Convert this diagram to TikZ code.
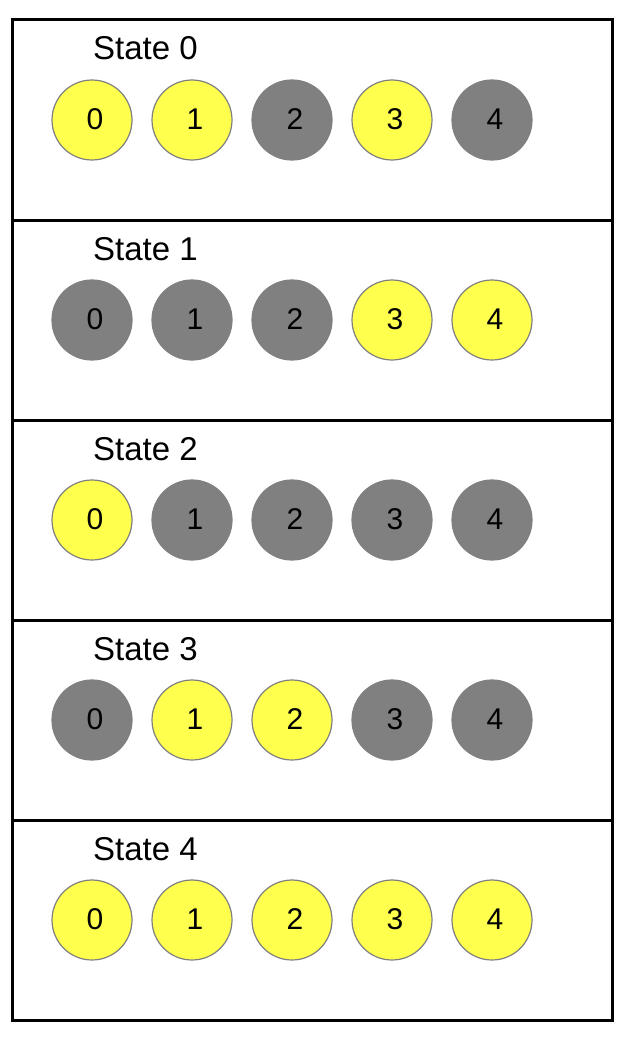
\documentclass[tikz,border=0pt]{standalone}
\usepackage{fontspec}
\setmainfont{Liberation Sans}
\usepackage{xcolor}
\usetikzlibrary{positioning}

\definecolor{bulbyellow}{HTML}{FFFF4D}
\definecolor{bulbgray}{HTML}{808080}

\begin{document}
\begin{tikzpicture}[
    x=1pt, y=-1pt,
    panel/.style={draw, line width=3pt, minimum width=600pt, minimum height=200pt, inner sep=0pt},
    bulb/.style={circle, minimum size=80pt, inner sep=0pt},
    litbulb/.style={bulb, fill=bulbyellow, draw=bulbgray, line width=1.2pt},
    darkbulb/.style={bulb, fill=bulbgray, draw=bulbgray, line width=1.2pt},
    bulbnum/.style={inner sep=0pt, font=\fontsize{30}{36}\selectfont},
    title/.style={anchor=base west, inner sep=0pt, font=\fontsize{33}{39}\selectfont}
]
\useasboundingbox (0,0) rectangle (638,1038);

% one panel per state, bulbs left to right
\foreach \s/\pattern in {0/{1,1,0,1,0}, 1/{0,0,0,1,1}, 2/{1,0,0,0,0}, 3/{0,1,1,0,0}, 4/{1,1,1,1,1}} {
    \node[panel] (panel\s) at (312, 120+200*\s) {};
    \node[title] (title\s) at (93, 60+200*\s) {State \s};
    \foreach \b [count=\i from 0] in \pattern {
        \ifnum\b=1
            \node[litbulb] (s\s b\i) at (92+100*\i, 120+200*\s) {};
        \else
            \node[darkbulb] (s\s b\i) at (92+100*\i, 120+200*\s) {};
        \fi
        \node[bulbnum, xshift=3pt, yshift=1pt] (n\s b\i) at (s\s b\i.center) {\i};
    }
}
\end{tikzpicture}
\end{document}
